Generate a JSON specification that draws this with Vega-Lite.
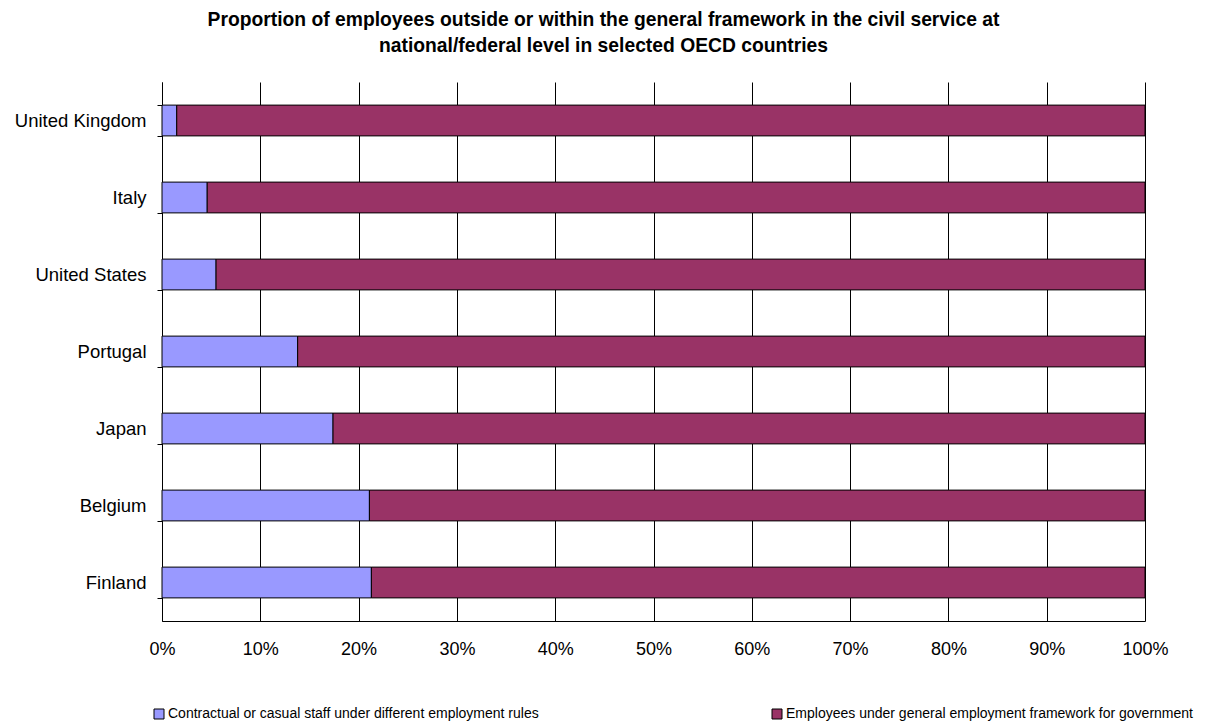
{
  "$schema": "https://vega.github.io/schema/vega-lite/v6.json",
  "autosize": {"type": "none"},
  "width": 983,
  "height": 539,
  "padding": {"left": 162, "top": 82, "right": 64, "bottom": 103},
  "background": "white",
  "config": {
    "font": "Liberation Sans",
    "view": {"stroke": null}
  },
  "title": {
    "text": ["Proportion of employees outside or within the general framework in the civil service at", "national/federal level in selected OECD countries"],
    "fontSize": 19.3,
    "fontWeight": "bold",
    "lineHeight": 26,
    "anchor": "middle",
    "frame": "group",
    "dx": -50,
    "offset": 17,
    "color": "#000"
  },
  "data": {
    "values": [
      {"country": "United Kingdom", "series": "Contractual or casual staff under different employment rules", "share": 0.015},
      {"country": "United Kingdom", "series": "Employees under general employment framework for government", "share": 0.985},
      {"country": "Italy", "series": "Contractual or casual staff under different employment rules", "share": 0.046},
      {"country": "Italy", "series": "Employees under general employment framework for government", "share": 0.954},
      {"country": "United States", "series": "Contractual or casual staff under different employment rules", "share": 0.055},
      {"country": "United States", "series": "Employees under general employment framework for government", "share": 0.945},
      {"country": "Portugal", "series": "Contractual or casual staff under different employment rules", "share": 0.138},
      {"country": "Portugal", "series": "Employees under general employment framework for government", "share": 0.862},
      {"country": "Japan", "series": "Contractual or casual staff under different employment rules", "share": 0.174},
      {"country": "Japan", "series": "Employees under general employment framework for government", "share": 0.826},
      {"country": "Belgium", "series": "Contractual or casual staff under different employment rules", "share": 0.211},
      {"country": "Belgium", "series": "Employees under general employment framework for government", "share": 0.789},
      {"country": "Finland", "series": "Contractual or casual staff under different employment rules", "share": 0.213},
      {"country": "Finland", "series": "Employees under general employment framework for government", "share": 0.787}
    ]
  },
  "mark": {"type": "bar", "stroke": "#000", "strokeWidth": 1},
  "encoding": {
    "y": {
      "field": "country",
      "type": "nominal",
      "sort": ["United Kingdom", "Italy", "United States", "Portugal", "Japan", "Belgium", "Finland"],
      "scale": {"paddingInner": 0.6, "paddingOuter": 0.3},
      "axis": {
        "title": null,
        "tickBand": "extent",
        "domainColor": "#000",
        "tickColor": "#000",
        "tickSize": 5,
        "labelPadding": 11,
        "labelFontSize": 18.5,
        "labelColor": "#000",
        "grid": false
      }
    },
    "x": {
      "field": "share",
      "type": "quantitative",
      "stack": "zero",
      "scale": {"domain": [0, 1], "nice": false},
      "axis": {
        "title": null,
        "format": ".0%",
        "values": [0, 0.1, 0.2, 0.3, 0.4, 0.5, 0.6, 0.7, 0.8, 0.9, 1],
        "ticks": false,
        "labelFlush": false,
        "labelPadding": 19,
        "labelFontSize": 18,
        "labelColor": "#000",
        "domainColor": "#000",
        "grid": true,
        "gridColor": "#000",
        "gridOpacity": 1,
        "gridWidth": 1
      }
    },
    "color": {
      "field": "series",
      "type": "nominal",
      "scale": {
        "domain": ["Contractual or casual staff under different employment rules", "Employees under general employment framework for government"],
        "range": ["#9999FF", "#993366"]
      },
      "legend": {
        "title": null,
        "orient": "none",
        "legendX": -10,
        "legendY": 625,
        "direction": "horizontal",
        "columns": 2,
        "columnPadding": 231,
        "symbolType": "square",
        "symbolSize": 100,
        "symbolStrokeColor": "#000",
        "symbolStrokeWidth": 1,
        "symbolOpacity": 1,
        "labelFontSize": 14,
        "labelColor": "#000",
        "labelLimit": 600,
        "labelOffset": 2
      }
    },
    "order": {"field": "series", "sort": "ascending"}
  }
}
